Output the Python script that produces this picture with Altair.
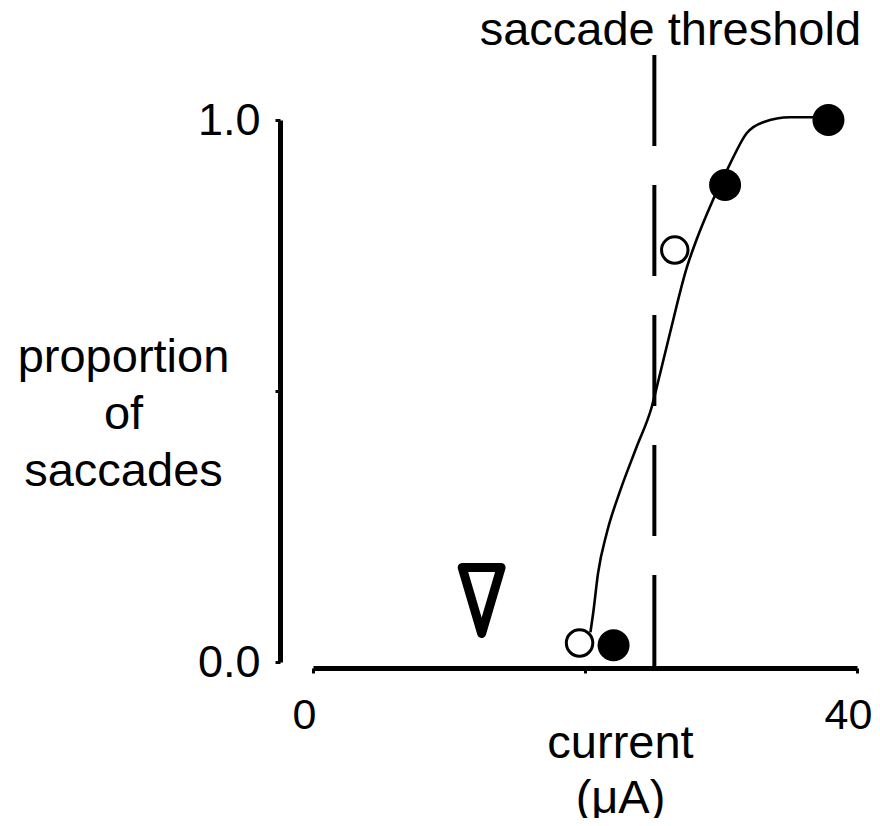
import altair as alt
import pandas as pd

# fitted psychometric curve
curve_x = [20.4, 20.6, 20.96, 21.6, 22.6, 23.8, 24.9, 25.5, 26.25, 27.5, 28.2, 29.4, 30.7, 31.9, 33.1, 35.1, 37.1, 37.9]
curve_y = [0.055, 0.090, 0.164, 0.238, 0.317, 0.397, 0.470, 0.530, 0.607, 0.729, 0.779, 0.852, 0.921, 0.976, 0.996, 1.005, 1.005, 1.0]

# data points
open_x = [19.6, 26.6]
open_y = [0.035, 0.760]
filled_x = [22.1, 30.3, 37.9]
filled_y = [0.031, 0.880, 1.0]

# saccade threshold and marker
threshold_x = [25.1]
threshold_top = [1.12]
threshold_bottom = [-0.011]
threshold_label = ["saccade threshold"]
marker_x = [12.4]
marker_y = [0.1135]

FONT = "Liberation Sans"

xs = alt.Scale(domain=[0, 40], nice=False, zero=False)
ys = alt.Scale(domain=[0, 1], nice=False, zero=False)

xaxis = alt.Axis(
    values=[0, 20, 40], labelExpr="datum.value == 20 ? '' : datum.label",
    title=["current", "(μA)"], titleFontSize=47, titleFont=FONT, titleFontWeight="normal",
    titleLineHeight=55, titleAnchor="start", titleAlign="center", titleBaseline="middle",
    titleX=307, titleY=75, titleColor="black",
    labelFontSize=43, labelFont=FONT, labelColor="black", labelPadding=21, labelOffset=-9,
    labelFlush=False,
    offset=6, domainWidth=5, domainColor="black", tickColor="black", tickWidth=3, tickSize=5,
    grid=False,
)
yaxis = alt.Axis(
    values=[0, 0.5, 1], labelExpr="datum.value == 0.5 ? '' : format(datum.value, '.1f')",
    title=["proportion", "of", "saccades"], titleFontSize=47, titleFont=FONT, titleFontWeight="normal",
    titleLineHeight=57, titleAngle=0, titleAlign="center", titleBaseline="middle",
    titleX=-157, titleY=237, titleColor="black",
    labelFontSize=45, labelFont=FONT, labelColor="black", labelPadding=15, labelFlush=False,
    offset=33, domainWidth=5, domainColor="black", tickColor="black", tickWidth=3, tickSize=5,
    grid=False,
)

curve_df = pd.DataFrame({"x": curve_x, "y": curve_y})
open_df = pd.DataFrame({"x": open_x, "y": open_y})
filled_df = pd.DataFrame({"x": filled_x, "y": filled_y})
thr_df = pd.DataFrame({"x": threshold_x, "y": threshold_top, "y2": threshold_bottom,
                       "label": threshold_label})
mk_df = pd.DataFrame({"x": marker_x, "y": marker_y})

X = alt.X("x:Q", scale=xs, axis=xaxis)
Y = alt.Y("y:Q", scale=ys, axis=yaxis)

rule = alt.Chart(thr_df).mark_rule(color="black", strokeWidth=4, strokeDash=[91, 39]).encode(
    x=X, y=Y, y2="y2:Q"
)
thr_text = alt.Chart(thr_df).mark_text(
    font=FONT, fontSize=47, color="black", align="center", baseline="alphabetic", dx=16
).encode(x=X, y=alt.value(-75), text="label:N")
curve = alt.Chart(curve_df).mark_line(color="black", strokeWidth=2.6, interpolate="monotone").encode(
    x=X, y=Y
)
opens = alt.Chart(open_df).mark_point(
    shape="circle", size=700, filled=False, fill="white", fillOpacity=1,
    stroke="black", strokeWidth=3, opacity=1
).encode(x=X, y=Y)
filleds = alt.Chart(filled_df).mark_point(
    shape="circle", size=1024, filled=True, color="black", opacity=1, strokeWidth=0
).encode(x=X, y=Y)
marker = alt.Chart(mk_df).mark_point(
    shape="M-0.59,-1L0.59,-1L0,1Z", size=4356, filled=False, stroke="black",
    strokeWidth=9, strokeJoin="round", opacity=1
).encode(x=X, y=Y)

chart = alt.layer(rule, thr_text, curve, opens, filleds, marker).properties(
    width=544, height=542,
    padding={"left": 305, "top": 112, "right": 15, "bottom": 156},
    autosize=alt.AutoSizeParams(type="none"),
    background="white",
).configure_view(strokeWidth=0)

chart.save("out.html", embed_options={"renderer": "svg", "actions": False})
